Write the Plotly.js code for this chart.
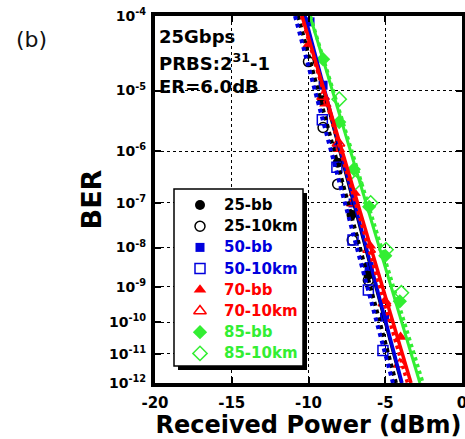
<!DOCTYPE html>
<html><head><meta charset="utf-8">
<script src="https://cdn.plot.ly/plotly-3.0.1.min.js"></script>
<style>html,body{margin:0;padding:0;background:#fff;}#chart{width:465px;height:439px;}</style>
</head><body><div id="chart"></div>
<script>
// ---- data ----
const seriesNames = ['25-bb','25-10km','50-bb','50-10km','70-bb','70-10km','85-bb','85-10km'];

const power25bb   = [-9.1, -8.1, -7.2, -6.1];
const ber25bb     = [7.1e-6, 6.2e-7, 5.6e-8, 2.1e-9];
const power25km   = [-10.0, -9.05, -8.1, -7.15, -6.1];
const ber25km     = [2.6e-5, 2.6e-6, 2.4e-7, 1.5e-8, 1.5e-9];
const power50bb   = [-9.9, -9.05, -8.1, -7.1, -6.05, -5.05];
const ber50bb     = [8.5e-5, 1.2e-5, 1.2e-6, 1.0e-7, 3.4e-9, 1.4e-10];
const power50km   = [-9.1, -8.15, -7.1, -6.1, -5.15];
const ber50km     = [3.5e-6, 5.1e-7, 1.5e-8, 8.3e-10, 1.3e-11];
const power70bb   = [-10.0, -8.9, -8.0, -7.0, -6.0, -5.0, -4.0];
const ber70bb     = [4.4e-5, 6.3e-6, 1.1e-6, 1.6e-7, 1.1e-8, 4.0e-10, 3.5e-11];
const power70km   = [-9.05, -8.05, -7.1, -6.05, -5.05, -4.05];
const ber70km     = [8.1e-6, 1.4e-6, 1.0e-7, 9.0e-9, 3.6e-10, 4.5e-12];
const power85bb   = [-9.05, -8.0, -7.05, -6.05, -5.0, -4.05];
const ber85bb     = [2.8e-5, 3.2e-6, 4.7e-7, 8.3e-8, 6.3e-9, 4.0e-10];
const power85km   = [-8.0, -6.95, -5.95, -4.95, -3.95];
const ber85km     = [7.4e-6, 2.6e-7, 1.0e-7, 8.9e-9, 6.9e-10];

// linear fits: received power at BER = 1e-4 and 1e-12
const fitBER    = [1e-4, 1e-12];
const fit25bb   = [-10.3, -3.95];
const fit25km   = [-10.68, -4.3];
const fit50bb   = [-10.23, -3.91];
const fit50km   = [-10.88, -4.5];
const fit70bb   = [-10.42, -3.32];
const fit70km   = [-10.45, -3.55];
const fit85bb   = [-9.9, -2.74];
const fit85km   = [-9.88, -2.54];

const xTickVals = [-20, -15, -10, -5, 0];
const xTickText = ['-20', '-15', '-10', '-5', '0'];
const yTickExp  = [4, 5, 6, 7, 8, 9, 10, 11, 12];
const infoLines = ['25Gbps', 'PRBS:2<sup>31</sup>-1', 'ER=6.0dB'];

// ---- styling ----
const BLUE = '#0000dd', RED = '#ff0000', GREEN = '#33ee33', BLACK = '#000000';
const FONT = 'DejaVu Sans';
const powers = [power25bb, power25km, power50bb, power50km, power70bb, power70km, power85bb, power85km];
const bers   = [ber25bb, ber25km, ber50bb, ber50km, ber70bb, ber70km, ber85bb, ber85km];
const fits   = [fit25bb, fit25km, fit50bb, fit50km, fit70bb, fit70km, fit85bb, fit85km];
const colors = [BLACK, BLACK, BLUE, BLUE, RED, RED, GREEN, GREEN];
const symbols = ['circle','circle-open','square','square-open','triangle-up','triangle-up-open','diamond','diamond-open'];
const msizes = [10, 10, 9, 10, 11, 11, 11, 11];
const dashes = ['solid','dot','solid','dot','solid','dot','solid','dot'];
const lwidths = [3, 4, 3.5, 4, 3.5, 3.5, 3, 3.5];

const q = b => Math.log10(-Math.log10(b));
const yTop = q(1e-4), yBot = q(1e-12);

// geometry helpers (pixel -> axis coords); plot area 155..462 x 16..383
const L = 155, T = 16, W = 307, H = 367;
const px2x = px => -20 + (px - L) / W * 20;
const py2y = py => yTop + (py - T) / H * (yBot - yTop);
const px2p = px => (px - L) / W;
const py2p = py => (T + H - py) / H;

const traces = [];
for (let i = 0; i < 8; i++) {
  traces.push({
    x: powers[i], y: bers[i].map(q), type: 'scatter', mode: 'markers',
    marker: {symbol: symbols[i], size: msizes[i], color: colors[i], line: {color: colors[i], width: symbols[i].endsWith('open') ? 1.5 : 0}},
    showlegend: false, name: seriesNames[i], hoverinfo: 'skip'
  });
}
for (let i = 0; i < 8; i++) {
  traces.push({
    x: fits[i], y: fitBER.map(q), type: 'scatter', mode: 'lines',
    line: {color: colors[i], width: lwidths[i], dash: dashes[i]},
    showlegend: false, hoverinfo: 'skip'
  });
}
const legRowY = [205, 226.2, 247.4, 268.6, 289.8, 311, 332.2, 353.4];
for (let i = 0; i < 8; i++) {
  traces.push({
    x: [px2x(200)], y: [py2y(legRowY[i])], type: 'scatter', mode: 'markers',
    marker: {symbol: symbols[i], size: msizes[i], color: colors[i], line: {color: colors[i], width: symbols[i].endsWith('open') ? 1.5 : 0}},
    showlegend: false, hoverinfo: 'skip', cliponaxis: false
  });
}

const annotations = [];
for (let i = 0; i < 8; i++) {
  annotations.push({xref: 'paper', yref: 'paper', x: px2p(222), y: py2p(legRowY[i]), xanchor: 'left', yanchor: 'middle',
    text: seriesNames[i], showarrow: false, font: {family: FONT, size: 15, weight: 'bold', color: colors[i]}});
}
const infoY = [36, 62, 87];
for (let i = 0; i < infoLines.length; i++) {
  annotations.push({xref: 'paper', yref: 'paper', x: px2p(157), y: py2p(infoY[i]), xanchor: 'left', yanchor: 'middle',
    text: infoLines[i], showarrow: false, font: {family: FONT, size: 18, weight: 'bold', color: BLACK}});
}
annotations.push({xref: 'paper', yref: 'paper', x: px2p(31), y: py2p(40), xanchor: 'center', yanchor: 'middle',
  text: '(b)', showarrow: false, font: {family: FONT, size: 22, color: '#111'}});

const shapes = [
  {type: 'rect', xref: 'x', yref: 'y', layer: 'between', x0: px2x(178), x1: px2x(307), y0: py2y(193), y1: py2y(370),
   fillcolor: BLACK, line: {width: 0}},
  {type: 'rect', xref: 'x', yref: 'y', layer: 'between', x0: px2x(174), x1: px2x(303), y0: py2y(189), y1: py2y(366),
   fillcolor: '#ffffff', line: {color: BLACK, width: 1.5}}
];

const layout = {
  width: 465, height: 439,
  margin: {l: L, r: 465 - L - W, t: T, b: 439 - T - H},
  paper_bgcolor: '#fff', plot_bgcolor: '#fff',
  showlegend: false,
  xaxis: {
    range: [-20, 0], tickvals: xTickVals, ticktext: xTickText,
    showline: true, linecolor: BLACK, linewidth: 4, mirror: 'ticks',
    ticks: 'inside', ticklen: 6, tickwidth: 2, tickcolor: BLACK,
    showgrid: true, gridcolor: BLACK, gridwidth: 1, griddash: 'dot', zeroline: false,
    tickfont: {family: FONT, size: 15, weight: 'bold', color: BLACK}, ticklabelstandoff: 3,
    ticklabeloverflow: 'allow',
    title: {text: 'Received Power (dBm)', font: {family: FONT, size: 24, weight: 'bold', color: BLACK}, standoff: 7}
  },
  yaxis: {
    range: [yBot, yTop], tickvals: yTickExp.map(e => Math.log10(e)),
    ticktext: yTickExp.map(e => '10<sup>-' + e + '</sup>'),
    showline: true, linecolor: BLACK, linewidth: 4, mirror: 'ticks',
    ticks: 'inside', ticklen: 6, tickwidth: 2, tickcolor: BLACK,
    showgrid: true, gridcolor: BLACK, gridwidth: 1, griddash: 'dot', zeroline: false,
    tickfont: {family: FONT, size: 14, weight: 'bold', color: BLACK}, ticklabelstandoff: 2,
    title: {text: 'BER', font: {family: FONT, size: 27, weight: 'bold', color: BLACK}, standoff: 1}
  },
  annotations: annotations,
  shapes: shapes
};

Plotly.newPlot('chart', traces, layout, {displayModeBar: false, staticPlot: true});
</script>
</body></html>
